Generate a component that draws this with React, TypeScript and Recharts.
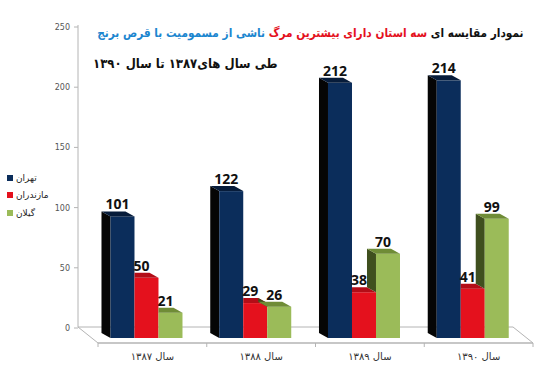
import * as RC from "recharts";
import { BarChart, Bar, XAxis, YAxis, LabelList } from "recharts";

const categories = ["سال ۱۳۸۷", "سال ۱۳۸۸", "سال ۱۳۸۹", "سال ۱۳۹۰"];
const tehran = [101, 122, 212, 214];
const mazandaran = [50, 29, 38, 41];
const gilan = [21, 26, 70, 99];
const seriesNames = ["تهران", "مازندران", "گیلان"];
const yTicks = [0, 50, 100, 150, 200, 250];

const keys = ["tehran", "mazandaran", "gilan"];
const faceColors = ["#0b2d5b", "#e4111d", "#9bbb59"];
const sideColors = ["#050505", "#8e0a12", "#3f4f1e"];
const topColors = ["#071c3a", "#b30d17", "#6f8c36"];

const data = categories.map((c, i) => ({
  name: c,
  tehran: tehran[i],
  mazandaran: mazandaran[i],
  gilan: gilan[i],
}));

const DX = 9;
const DY = 5;
const FONT = "'DejaVu Sans', sans-serif";

function Bar3D(props: any) {
  const { x, y, width, height, payload, idx } = props;
  const value = payload[keys[idx]];
  if (!value || height <= 0) return null;
  const base = y + height;
  const ppu = height / value;
  const leftTop = idx > 0 ? base - payload[keys[idx - 1]] * ppu : base;
  const hidden = leftTop <= y - DY;
  const r = x + width;
  return (
    <g>
      {!hidden && (
        <polygon
          points={`${x - DX},${y - DY} ${x},${y} ${x},${leftTop} ${x - DX},${leftTop - DY}`}
          fill={sideColors[idx]}
        />
      )}
      <rect x={x} y={y} width={width} height={height} fill={faceColors[idx]} />
      <polygon
        points={
          hidden
            ? `${x},${y - DY} ${r - DX},${y - DY} ${r},${y} ${x},${y}`
            : `${x - DX},${y - DY} ${r - DX},${y - DY} ${r},${y} ${x},${y}`
        }
        fill={topColors[idx]}
      />
    </g>
  );
}

function ValueLabel(props: any) {
  const { x, y, width, value } = props;
  return (
    <text
      x={x + width / 2 - 5}
      y={y - 7}
      textAnchor="middle"
      fontFamily="'Open Sans', sans-serif"
      fontWeight={700}
      fontSize={14}
      fill="#111"
    >
      {value}
    </text>
  );
}

function Frame() {
  const usePA = (RC as any).usePlotArea;
  const area = usePA ? usePA() : null;
  if (!area) return null;
  const { x, y, width, height } = area;
  const b = y + height;
  const backY = b - 11;
  const frontY = b + 5;
  const ax = x - 14;
  const stroke = "#b4b4b4";
  return (
    <g>
      <line x1={ax} y1={y - 12} x2={ax} y2={backY} stroke={stroke} />
      <line x1={ax} y1={backY} x2={x + width - 14} y2={backY} stroke={stroke} />
      <line x1={ax} y1={backY} x2={x + 6} y2={frontY} stroke={stroke} />
      <line x1={x + width - 14} y1={backY} x2={x + width + 6} y2={frontY} stroke={stroke} />
      <line x1={x + 6} y1={frontY} x2={x + width + 6} y2={frontY} stroke={stroke} strokeWidth={1.5} />
      {categories.concat([""]).map((_, i) => (
        <line
          key={i}
          x1={x + 6 + (i * width) / categories.length}
          y1={frontY}
          x2={x + 6 + (i * width) / categories.length}
          y2={frontY + 4}
          stroke={stroke}
        />
      ))}
    </g>
  );
}

function YTick(props: any) {
  const { x, y, payload } = props;
  return (
    <g>
      <line x1={x - 18} y1={y - 10} x2={x - 14} y2={y - 10} stroke="#b4b4b4" />
      <text x={x - 22} y={y - 7} textAnchor="end" fontFamily={FONT} fontSize={8} fill="#555">
        {payload.value}
      </text>
    </g>
  );
}

function XTick(props: any) {
  const { x, y, payload } = props;
  return (
    <text x={x + 6} y={y + 22} textAnchor="middle" fontFamily={FONT} fontSize={10} fill="#333">
      {payload.value}
    </text>
  );
}

export default function App() {
  return (
    <div style={{ position: "absolute", left: 0, top: 0, width: 545, height: 375, background: "#fff" }}>
      <BarChart
        width={545}
        height={375}
        data={data}
        margin={{ top: 37, right: 18, bottom: 0, left: 0 }}
        barCategoryGap="17%"
        barGap={0}
      >
        <Frame />
        <XAxis
          dataKey="name"
          height={37}
          axisLine={false}
          tickLine={false}
          tickSize={0}
          tickMargin={0}
          tick={<XTick />}
        />
        <YAxis
          width={92}
          domain={[0, 250]}
          ticks={yTicks}
          axisLine={false}
          tickLine={false}
          tickSize={0}
          tickMargin={0}
          tick={<YTick />}
        />
        {keys.map((k, i) => (
          <Bar
            key={k}
            dataKey={k}
            name={seriesNames[i]}
            fill={faceColors[i]}
            isAnimationActive={false}
            shape={(p: any) => <Bar3D {...p} idx={i} />}
          >
            <LabelList dataKey={k} content={<ValueLabel />} />
          </Bar>
        ))}
      </BarChart>

      <div
        style={{
          position: "absolute",
          right: 22,
          top: 26,
          direction: "rtl",
          whiteSpace: "nowrap",
          fontFamily: FONT,
          fontWeight: 700,
          fontSize: 12,
          color: "#111",
          transform: "scaleX(0.88)",
          transformOrigin: "right center",
        }}
      >
        نمودار مقایسه ای <span style={{ color: "#e4111d" }}>سه استان دارای بیشترین مرگ</span>{" "}
        <span style={{ color: "#1c86cf" }}>ناشی از مسمومیت با قرص برنج</span>
      </div>
      <div
        style={{
          position: "absolute",
          left: 93,
          top: 56,
          direction: "rtl",
          whiteSpace: "nowrap",
          fontFamily: FONT,
          fontWeight: 700,
          fontSize: 13,
          color: "#111",
          transform: "scaleX(0.9)",
          transformOrigin: "left center",
        }}
      >
        طی سال های۱۳۸۷ تا سال ۱۳۹۰
      </div>

      <div style={{ position: "absolute", left: 7, top: 169, fontFamily: FONT, fontSize: 9, color: "#222" }}>
        {seriesNames.map((n, i) => (
          <div key={n} style={{ display: "flex", alignItems: "center", height: 17.5 }}>
            <span style={{ width: 6, height: 6, background: faceColors[i], marginRight: 3 }} />
            <span>{n}</span>
          </div>
        ))}
      </div>
    </div>
  );
}
